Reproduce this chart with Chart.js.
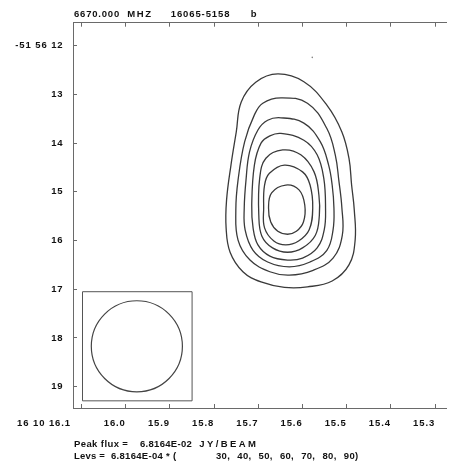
<!DOCTYPE html>
<html>
<head>
<meta charset="utf-8">
<script src="https://cdn.jsdelivr.net/npm/chart.js@4.4.1/dist/chart.umd.min.js"></script>
<style>
  html, body { margin: 0; padding: 0; background: #fff; }
  canvas { display: block; }
</style>
</head>
<body>
<canvas id="map" width="450" height="468"></canvas>
<script>
// 6670 MHz maser map of 16065-5158, panel b
const freqMHz = 6670.0;
const sourceName = '16065-5158';
const panelTag = 'b';

// axes: RA seconds (16h 10m ..), Dec arcsec (-51d 56' ..)
const raTicks = [16.1, 16.0, 15.9, 15.8, 15.7, 15.6, 15.5, 15.4, 15.3];
const decTicks = [12, 13, 14, 15, 16, 17, 18, 19];
const raRange = [15.2754, 16.1195];
const decRange = [11.528, 19.437];

const peakFlux = 6.8164e-2; // JY/BEAM
const levels = [30, 40, 50, 60, 70, 80, 90]; // % of peak

// contours as [ra sec, dec arcsec]
const lev30 = [[15.656,12.58],[15.597,12.74],[15.545,13.22],[15.511,13.77],[15.495,14.31],[15.489,14.86],[15.483,15.37],[15.481,15.99],[15.495,16.50],[15.533,16.83],[15.589,16.95],[15.641,16.96],[15.694,16.85],[15.735,16.64],[15.764,16.24],[15.773,15.74],[15.772,15.17],[15.762,14.45],[15.750,13.77],[15.739,13.16],[15.706,12.75]];
const lev40 = [[15.649,13.07],[15.589,13.18],[15.545,13.70],[15.526,14.24],[15.518,14.76],[15.511,15.33],[15.510,15.89],[15.531,16.36],[15.576,16.61],[15.630,16.71],[15.674,16.64],[15.719,16.40],[15.746,15.99],[15.751,15.37],[15.746,14.76],[15.731,13.97],[15.709,13.42],[15.690,13.18]];
const lev50 = [[15.649,13.48],[15.597,13.59],[15.560,13.97],[15.541,14.45],[15.533,14.86],[15.529,15.33],[15.531,15.78],[15.545,16.20],[15.583,16.44],[15.630,16.54],[15.679,16.44],[15.712,16.20],[15.730,15.78],[15.732,15.33],[15.728,14.76],[15.720,14.18],[15.701,13.73],[15.679,13.53]];
const lev60 = [[15.649,13.80],[15.597,13.94],[15.567,14.24],[15.552,14.72],[15.548,15.33],[15.551,15.78],[15.567,16.15],[15.600,16.36],[15.634,16.40],[15.674,16.32],[15.701,16.09],[15.712,15.74],[15.715,15.27],[15.709,14.45],[15.694,14.00],[15.674,13.85]];
const lev70 = [[15.645,14.14],[15.604,14.24],[15.574,14.59],[15.563,15.07],[15.562,15.48],[15.571,15.89],[15.600,16.15],[15.634,16.24],[15.668,16.15],[15.692,15.91],[15.699,15.48],[15.697,14.72],[15.683,14.31]];
const lev80 = [[15.641,14.45],[15.600,14.59],[15.583,14.86],[15.577,15.33],[15.585,15.78],[15.609,16.01],[15.638,16.09],[15.665,16.01],[15.686,15.74],[15.688,15.33],[15.686,14.86],[15.675,14.62]];
const lev90 = [[15.638,14.86],[15.608,14.96],[15.595,15.27],[15.598,15.62],[15.614,15.81],[15.634,15.87],[15.656,15.81],[15.672,15.62],[15.677,15.33],[15.670,15.02]];

// restoring beam, lower left
const beamBox = [[16.098,17.05],[15.850,17.05],[15.850,19.29],[16.098,19.29]];
const beamCentre = [15.975, 18.17];
const beamRadius = 0.935; // arcsec
const specks = [[15.578, 12.24]];

const contours = [lev30, lev40, lev50, lev60, lev70, lev80, lev90];
const FONT = '"Liberation Sans", Arial, sans-serif';
const INK = '#111';
const AXIS = '#6a6a6a';

function fmtE(v) {
  const [m, e] = v.toExponential(4).split('e');
  const n = parseInt(e, 10);
  return m + 'E' + (n < 0 ? '-' : '+') + String(Math.abs(n)).padStart(2, '0');
}
const pts = arr => arr.map(([x, y]) => ({ x, y }));

const datasets = contours.map((c, i) => ({
  label: levels[i] + '%',
  data: pts(c),
  closed: true,
  borderColor: '#3a3a3a',
  borderWidth: 1.3,
  tension: 0.4,
  pointRadius: 0,
}));
datasets.push({
  label: 'beam box',
  data: pts(beamBox),
  closed: true,
  borderColor: '#555',
  borderWidth: 1,
  tension: 0,
  pointRadius: 0,
});
datasets.push({
  label: 'beam',
  data: pts([beamCentre]),
  showLine: false,
  pointStyle: 'circle',
  pointBackgroundColor: 'rgba(0,0,0,0)',
  pointBorderColor: '#444',
  pointBorderWidth: 1.2,
  pointRadius: (ctx) => {
    const y = ctx.chart.scales.y;
    if (!y) return 0;
    return Math.abs(y.getPixelForValue(beamCentre[1] + beamRadius) - y.getPixelForValue(beamCentre[1]));
  },
});
datasets.push({
  label: 'specks',
  data: pts(specks),
  showLine: false,
  pointRadius: 0.8,
  pointBorderWidth: 0,
  pointBackgroundColor: '#888',
});

// close contour lines as smooth loops (same trick the radar chart uses)
const loopPlugin = {
  id: 'loops',
  afterDatasetUpdate(chart, args) {
    const ds = chart.data.datasets[args.index];
    if (ds.closed && args.meta.dataset) {
      args.meta.dataset._loop = true;
      args.meta.dataset._fullLoop = true;
    }
  },
};

const spacingPlugin = {
  id: 'spacing',
  beforeDraw(chart) { chart.ctx.letterSpacing = '0.9px'; },
};

const textPlugin = {
  id: 'mapText',
  afterDraw(chart) {
    const ctx = chart.ctx;
    const lines = [
      { y: 14.5, parts: [
        [freqMHz.toFixed(3), 74, 0.8], ['MHZ', 127.3, 1.6], [sourceName, 170.7, 0.9], [panelTag, 250.7, 0],
      ]},
      { y: 444.5, parts: [
        ['Peak flux =', 74, 0.4], [fmtE(peakFlux), 140, 0.3], ['JY/BEAM', 199.3, 2.4],
      ]},
      { y: 456.5, parts: [
        ['Levs =', 74, 0.2], [fmtE(peakFlux / 100), 111, 0.3], ['*', 166, 0], ['(', 173, 0],
      ].concat(levels.map((l, i) => [l + (i === levels.length - 1 ? ')' : ','), 216 + i * 21.3, 0.3]))},
    ];
    ctx.save();
    ctx.fillStyle = INK;
    ctx.textBaseline = 'middle';
    ctx.textAlign = 'left';
    ctx.font = 'bold 9.5px ' + FONT;
    lines.forEach(line => {
      line.parts.forEach(([t, x, sp]) => {
        ctx.letterSpacing = sp + 'px';
        ctx.fillText(t, x, line.y);
      });
    });
    ctx.restore();
  },
};

const tickFont = { family: FONT, size: 9.5, weight: 'bold' };
const gridOpts = { drawOnChartArea: false, drawTicks: true, tickLength: -4, color: AXIS, lineWidth: 1 };
const borderOpts = { display: true, color: AXIS, width: 1 };

new Chart(document.getElementById('map'), {
  type: 'line',
  data: { datasets },
  options: {
    responsive: false,
    animation: false,
    events: [],
    layout: { padding: { top: 19.7, left: 0, right: 0, bottom: 0 } },
    plugins: { legend: { display: false }, tooltip: { enabled: false } },
    scales: {
      x: {
        type: 'linear', position: 'bottom', reverse: true,
        min: raRange[0], max: raRange[1],
        afterBuildTicks: s => { s.ticks = raTicks.map(v => ({ value: v })); },
        afterFit: s => { s.height = 60; },
        grid: gridOpts, border: borderOpts,
        ticks: {
          autoSkip: false, maxRotation: 0, minRotation: 0, align: 'end', padding: 13.8,
          color: INK, font: tickFont,
          callback: v => v === raTicks[0] ? '16 10 ' + v.toFixed(1) + '   ' : v.toFixed(1),
        },
      },
      x2: {
        type: 'linear', position: 'top', reverse: true,
        min: raRange[0], max: raRange[1],
        afterBuildTicks: s => { s.ticks = raTicks.map(v => ({ value: v })); },
        afterFit: s => { s.height = 3; },
        grid: gridOpts, border: borderOpts,
        ticks: { display: false },
      },
      y: {
        type: 'linear', position: 'left', reverse: true,
        min: decRange[0], max: decRange[1],
        afterBuildTicks: s => { s.ticks = decTicks.map(v => ({ value: v })); },
        afterFit: s => { s.width = 73; },
        grid: gridOpts, border: borderOpts,
        ticks: {
          padding: 13.5, color: INK, font: tickFont,
          callback: v => v === decTicks[0] ? '-51 56 ' + v : String(v),
        },
      },
    },
  },
  plugins: [loopPlugin, spacingPlugin, textPlugin],
});
</script>
</body>
</html>
